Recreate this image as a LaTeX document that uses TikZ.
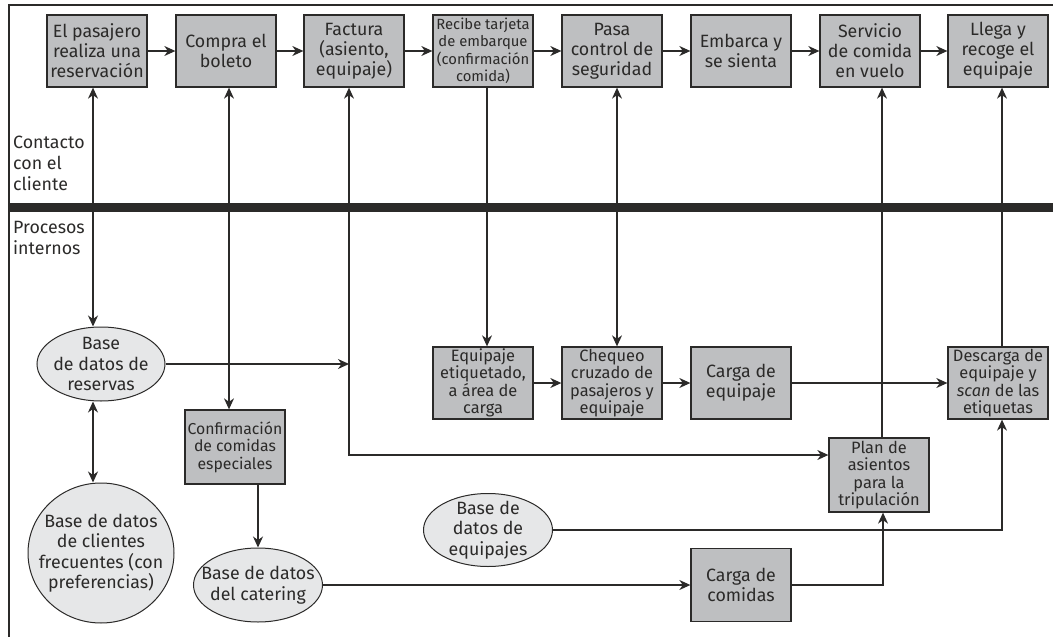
\documentclass[tikz,border=0pt]{standalone}
\usepackage{fontspec}
\setmainfont{Fira Sans}
\usetikzlibrary{arrows.meta,calc,shapes.geometric}
\definecolor{ink}{HTML}{2B2A29}
\definecolor{boxgray}{HTML}{BEBFC1}
\definecolor{ellgray}{HTML}{E6E7E8}
\begin{document}
\begin{tikzpicture}[x=1pt,y=-1pt,
  box/.style={draw=ink,line width=1.3pt,fill=boxgray,minimum width=100pt,minimum height=72pt,inner sep=1pt,align=center,text=ink,font=\fontsize{17.8}{20}\selectfont},
  sbox/.style={box,font=\fontsize{14.8}{17.5}\selectfont},
  mbox/.style={box,font=\fontsize{16.4}{17.5}\selectfont},
  ell/.style={ellipse,draw=ink,line width=1pt,fill=ellgray,inner sep=0pt},
  etext/.style={align=center,text=ink,inner sep=0pt,font=\fontsize{17.8}{20.5}\selectfont},
  lab/.style={anchor=north west,align=left,text=ink,inner sep=0pt,font=\fontsize{17.8}{21}\selectfont},
  conn/.style={draw=ink,line width=1.2pt},
  tip/.tip={Stealth[length=11pt,width=10pt,inset=3.5pt]},
  arr/.style={conn,-tip},
  darr/.style={conn,tip-tip}
]
\useasboundingbox (0,0) rectangle (1053,637);
% frame and separator
\draw[ink,line width=1.5pt] (9,637) -- (9,5) -- (1053,5);
\fill[ink] (9,203) rectangle (1053,212);
\node[lab] (contacto) at (13,136) {Contacto\\con el\\cliente};
\node[lab] (procesos) at (13,221) {Procesos\\internos};

% top row
\node[box] (b1) at (97,51) {El pasajero\\realiza una\\reservación};
\node[box] (b2) at (226,51) {Compra el\\boleto};
\node[box] (b3) at (354,51) {Factura\\(asiento,\\equipaje)};
\node[sbox] (b4) at (483,51) {Recibe tarjeta\\de embarque\\(confirmación\\comida)};
\node[box] (b5) at (612,51) {Pasa\\control de\\seguridad};
\node[box] (b6) at (741,51) {Embarca y\\se sienta};
\node[box] (b7) at (870,51) {Servicio\\de comida\\en vuelo};
\node[box] (b8) at (998,51) {Llega y\\recoge el\\equipaje};
\foreach \a/\b in {b1/b2,b2/b3,b3/b4,b4/b5,b5/b6,b6/b7,b7/b8}
  \draw[arr] (\a.east) -- (\b.west);

% internal processes
\node[ell,minimum width=128pt,minimum height=74pt] (resv) at (101,364) {};
\node[etext] (resvt) at (resv) {Base\\de datos de\\reservas};
\node[ell,minimum width=146pt,minimum height=140pt] (freq) at (101,553) {};
\node[etext] (freqt) at (freq) {Base de datos\\de clientes\\frecuentes (con\\preferencias)};
\node[mbox,minimum height=74pt,font=\fontsize{15.8}{17.5}\selectfont] (conf) at (235,447) {Confirmación\\de comidas\\especiales};
\node[ell,minimum width=129pt,minimum height=74pt] (cater) at (258,585) {};
\node[etext] (catert) at (cater) {Base de datos\\del catering};
\node[mbox] (eqet) at (483,383) {Equipaje\\etiquetado,\\a área de\\carga};
\node[mbox] (cheq) at (612,383) {Chequeo\\cruzado de\\pasajeros y\\equipaje};
\node[box] (cargaeq) at (741,383) {Carga de\\equipaje};
\node[mbox] (desc) at (998,383) {Descarga de\\equipaje y\\\textit{scan} de las\\etiquetas};
\node[mbox,minimum height=74pt] (plan) at (879,475) {Plan de\\asientos\\para la\\tripulación};
\node[ell,minimum width=129pt,minimum height=73pt] (eqdb) at (488,530) {};
\node[etext] (eqdbt) at (eqdb) {Base de\\datos de\\equipajes};
\node[box,minimum height=73pt] (cargacom) at (741,585) {Carga de\\comidas};

% connectors
\draw[darr] ([xshift=-4pt]b1.south) -- ([xshift=-4pt]b1.south |- resv.north);
\draw[darr] ([xshift=-8pt]resv.south) -- ([xshift=-8pt]resv.south |- freq.north);
\draw[darr] ([xshift=3pt]b2.south) -- ([xshift=3pt]b2.south |- conf.north);
\coordinate (fx) at ([xshift=-5pt]b3.south);
\coordinate (plin) at ($(plan.west)+(0,-20)$);
\draw[arr] (resv.east) -- (resv.east -| fx);
\draw[darr] (fx) -- (fx |- plin) -- (plin);
\draw[arr] ([xshift=4pt]b4.south) -- ([xshift=4pt]b4.south |- eqet.north);
\draw[darr] ([xshift=5pt]b5.south) -- ([xshift=5pt]b5.south |- cheq.north);
\draw[arr] (eqet.east) -- (cheq.west);
\draw[arr] (cheq.east) -- (cargaeq.west);
\draw[arr] (cargaeq.east) -- (desc.west);
\draw[arr] ([xshift=3pt]plan.north) -- ([xshift=3pt]plan.north |- b7.south);
\draw[arr] ([xshift=4pt]desc.north) -- ([xshift=4pt]desc.north |- b8.south);
\draw[arr] (conf.south -| cater.north) -- (cater.north);
\draw[arr] (cater.east) -- (cargacom.west);
\draw[arr] (cargacom.east) -| ([xshift=4pt]plan.south);
\draw[arr] (eqdb.east) -| ([xshift=4pt]desc.south);
\end{tikzpicture}
\end{document}
